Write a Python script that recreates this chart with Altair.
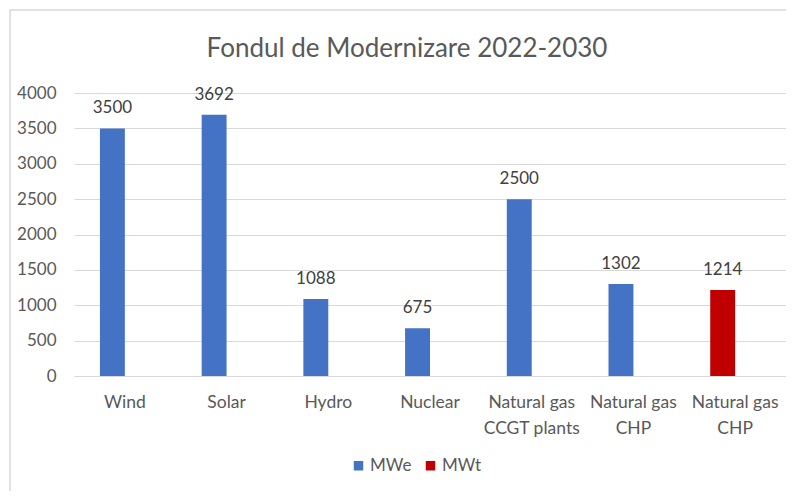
import altair as alt
import pandas as pd

categories = ["Wind", "Solar", "Hydro", "Nuclear",
              "Natural gas\nCCGT plants", "Natural gas\nCHP", "Natural gas\nCHP\u200b"]
values = [3500, 3692, 1088, 675, 2500, 1302, 1214]
series = ["MWe", "MWe", "MWe", "MWe", "MWe", "MWe", "MWt"]
y_ticks = [0, 500, 1000, 1500, 2000, 2500, 3000, 3500, 4000]
title_text = "Fondul de Modernizare 2022-2030"

df = pd.DataFrame({"cat": categories, "val": values, "series": series, "slot": ["a"] * len(categories)})
one = pd.DataFrame({"t": [title_text]})

FONT = "Lato"
GRAY = "#595959"

x_enc = alt.X("cat:N", sort=categories,
              scale=alt.Scale(paddingInner=0.51, paddingOuter=0.255),
              axis=alt.Axis(title=None, labelAngle=0, ticks=False, domainColor="#d9d9d9",
                            labelExpr="split(datum.label, '\\n')", labelFont=FONT,
                            labelFontSize=17.5, labelColor=GRAY, labelPadding=17,
                            labelLineHeight=26))
y_enc = alt.Y("val:Q", scale=alt.Scale(domain=[0, 4000]),
              axis=alt.Axis(title=None, values=y_ticks, ticks=False, domain=False, format="d",
                            gridColor="#d9d9d9", labelFont=FONT, labelFontSize=17,
                            labelColor=GRAY, labelPadding=18, labelOverlap=False))
xo = alt.XOffset("slot:N", scale=alt.Scale(domain=["a", "b"], paddingInner=0, paddingOuter=0))

bars = alt.Chart(df).mark_bar().encode(
    x=x_enc, y=y_enc, xOffset=xo,
    color=alt.Color("series:N", scale=alt.Scale(domain=["MWe", "MWt"], range=["#4472C4", "#C00000"]),
                    legend=alt.Legend(title=None, orient="none", direction="horizontal",
                                      legendX=276, legendY=364, symbolType="square",
                                      symbolSize=90, symbolStrokeWidth=0, labelFont=FONT,
                                      labelFontSize=17, labelColor=GRAY, columnPadding=10,
                                      labelOffset=3)),
)

labels = alt.Chart(df).mark_text(font=FONT, fontSize=17, color="#404040", dy=-15,
                                 baseline="alphabetic").encode(
    x=x_enc, y=y_enc, xOffset=xo, text="val:Q")

frame = alt.Chart(one).mark_rect(fill=None, stroke="#d9d9d9", strokeWidth=1.5).encode(
    x=alt.value(-64), x2=alt.value(900), y=alt.value(-83), y2=alt.value(600))

title = alt.Chart(one).mark_text(font=FONT, fontSize=26, color=GRAY, align="center",
                                 baseline="middle").encode(
    x=alt.value(333), y=alt.value(-44), text="t:N")

chart = alt.layer(frame, bars, labels, title).properties(
    width=712, height=283,
    autosize=alt.AutoSizeParams(type="none"),
    padding={"left": 66, "top": 85, "right": 0, "bottom": 115},
).configure_view(stroke=None)

chart.save("out.html", embed_options={"renderer": "svg", "actions": False})
